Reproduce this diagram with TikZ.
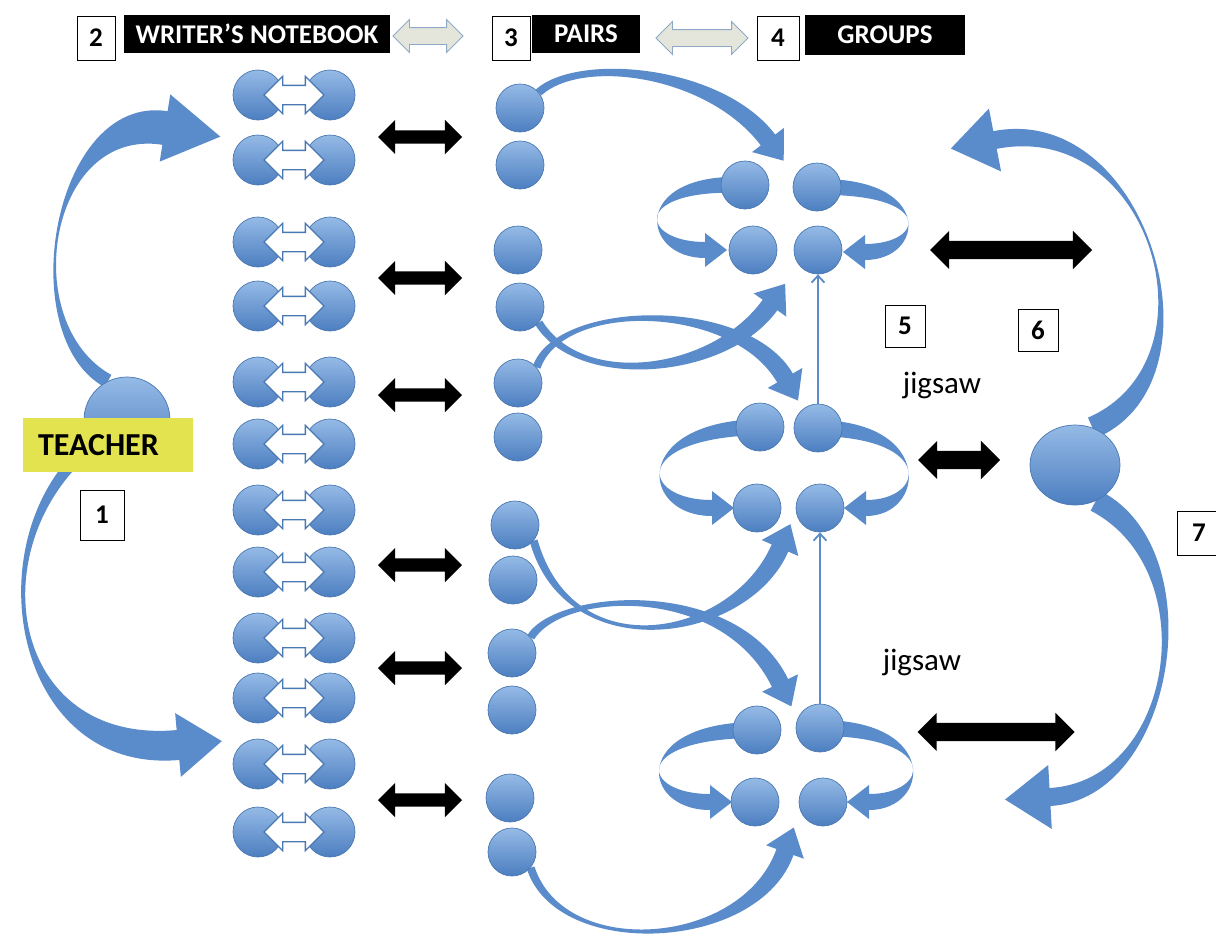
\documentclass[tikz,border=0pt]{standalone}
\usepackage{fontspec}
\setmainfont{Carlito}
\usetikzlibrary{arrows.meta,calc,backgrounds,shapes.arrows,shapes.geometric}
\definecolor{ballhi}{HTML}{95BAE6}
\definecolor{balllo}{HTML}{4C7EC0}
\definecolor{ballline}{HTML}{4A78B2}
\definecolor{bandblue}{HTML}{5A8BCB}
\definecolor{palefill}{HTML}{E4E6DC}
\definecolor{paleline}{HTML}{8FA8C6}
\definecolor{teachyellow}{HTML}{E2E34F}
\tikzset{
  bubble/.style   ={circle,draw=ballline,line width=0.7pt,top color=ballhi,
                    bottom color=balllo,minimum size=48pt,inner sep=0pt},
  wbubble/.style  ={bubble,minimum size=50pt},
  pairarr/.style  ={double arrow,draw=ballline,fill=white,line width=1.3pt,
                    minimum height=60pt,inner xsep=0pt,inner ysep=9pt,
                    double arrow head extend=9pt},
  blackarr/.style ={double arrow,fill=black,minimum height=84pt,inner xsep=0pt,
                    inner ysep=6.5pt,double arrow head extend=10.5pt},
  blackwide/.style={blackarr,inner ysep=9pt,double arrow head extend=10pt},
  palearr/.style  ={double arrow,draw=paleline,fill=palefill,line width=0.9pt,
                    inner xsep=0pt,inner ysep=8pt,double arrow head extend=8pt},
  numbox/.style   ={draw=black,line width=0.8pt,fill=white,minimum width=38pt,
                    minimum height=44pt,inner sep=0pt,
                    font=\bfseries\fontsize{27}{27}\selectfont},
  headbar/.style  ={fill=black,text=white,minimum height=38pt,inner sep=0pt,
                    font=\bfseries\fontsize{27}{27}\selectfont},
  jig/.style      ={font=\fontsize{31}{31}\selectfont,inner sep=0pt},
  loopfill/.style ={fill=bandblue},
  jigline/.style  ={draw=bandblue,line width=1.8pt,
                    -{Straight Barb[length=7pt,width=13pt]}},
}
% curved blue arrow with a taper:
% tail, control 1, control 2, neck, tail half width, neck half width,
% head half width, head length
\newcommand{\bluearrow}[8]{%
  \fill[loopfill]
    ($#1!#5!90:#2$) .. controls ($#2!#5!-90:#1$) and ($#3!#6!90:#4$)
    .. ($#4!#6!-90:#3$) -- ($#4!#7!-90:#3$) -- ($#4!#8!180:#3$)
    -- ($#4!#7!90:#3$) -- ($#4!#6!90:#3$)
    .. controls ($#3!#6!-90:#4$) and ($#2!#5!90:#1$) .. ($#1!#5!-90:#2$)
    -- cycle;}

\begin{document}
\begin{tikzpicture}[x=1pt,y=-1pt]
\useasboundingbox (0,0) rectangle (1216,945);

%% ---------------- header ----------------
\node[numbox] (n2) at (96,38) {2};
\node[headbar,minimum width=266pt] (hwn) at (257,34) {WRITER’S NOTEBOOK};
\node[palearr,minimum height=70pt] (pa1) at (428,36) {};
\node[numbox] (n3) at (511,38) {3};
\node[headbar,minimum width=108pt] (hpairs) at (586,34) {PAIRS};
\node[palearr,minimum height=92pt] (pa2) at (702,38) {};
\node[numbox,minimum width=42pt] (n4) at (778,38) {4};
\node[headbar,minimum width=160pt,minimum height=40pt] (hgroups) at (885,35) {GROUPS};

%% ---------------- teacher ----------------
\node[bubble,minimum size=86pt] (tc) at (127,420) {};
\node[fill=teachyellow,text width=140pt,inner xsep=15pt,inner ysep=0pt,
      minimum height=54pt,font=\bfseries\fontsize{32}{32}\selectfont]
      (tlab) at (108,445) {TEACHER};
\node[numbox,minimum width=44pt,minimum height=50pt] (n1) at (102,515) {1};

%% ---------------- writer's notebook ----------------
\foreach \y [count=\i] in {95,160,242,306,382,444,510,572,638,698,764,832}{
  \node[wbubble] (wl\i) at (258,\y) {};
  \node[wbubble] (wr\i) at (330,\y) {};
  \node[pairarr] (wa\i) at (294,\y) {};
}
\foreach \y [count=\i] in {137,278,395,565,668,800}
  \node[blackarr] (lk\i) at (420,\y) {};

%% ---------------- pairs ----------------
\foreach \x/\y [count=\i] in {520/108,520/165,518/250,520/307,518/383,518/437,
                              515/525,513/580,512/653,512/710,510/798,512/852}
  \node[bubble] (pr\i) at (\x,\y) {};

%% ---------------- groups ----------------
\node[bubble] (g1tl) at (745,185) {};
\node[bubble] (g1tr) at (817,187) {};
\node[bubble] (g1bl) at (753,250) {};
\node[bubble] (g1br) at (818,250) {};
\node[bubble] (g2tl) at (760,427) {};
\node[bubble] (g2tr) at (818,428) {};
\node[bubble] (g2bl) at (757,508) {};
\node[bubble] (g2br) at (820,508) {};
\node[bubble] (g3tl) at (757,730) {};
\node[bubble] (g3tr) at (820,728) {};
\node[bubble] (g3bl) at (755,802) {};
\node[bubble] (g3br) at (823,802) {};

\node[blackwide,minimum height=162pt] (rk1) at (1011,250) {};
\node[blackwide,minimum height=82pt] (rk2) at (959,460) {};
\node[blackwide,minimum height=157pt] (rk3) at (996,732) {};

\node[numbox,minimum width=40pt,minimum height=42pt] (n5) at (905,326) {5};
\node[numbox,minimum width=40pt,minimum height=42pt] (n6) at (1038,330) {6};
\node[numbox,minimum width=44pt,minimum height=44pt] (n7) at (1199,533) {7};
\node[jig] (js1) at (942,385) {jigsaw};
\node[jig] (js2) at (922,662) {jigsaw};

\node[bubble,ellipse,minimum width=90pt,minimum height=80pt] (rc) at (1075,465) {};

\draw[jigline] (g2tr.north) -- (g1br.south);
\draw[jigline] (g3tr.north) -- (g2br.south);

%% ---------------- curved arrows ----------------
\begin{scope}[on background layer]
\fill[white] (0,0) rectangle (1216,945);
% teacher to notebooks
\bluearrow{(tc.116)}{(15,330)}{(50,110)}{(165,128)}{7pt}{17pt}{34pt}{56pt}
\bluearrow{(tc.215)}{(-25,540)}{(10,760)}{(178,745)}{6pt}{15pt}{32pt}{44pt}
% right circle back to groups
\bluearrow{(rc.65)}{(1225,370)}{(1150,110)}{(995,140)}{11pt}{9pt}{32pt}{45pt}
\bluearrow{(rc.-60)}{(1210,560)}{(1175,790)}{(1050,797)}{11pt}{9pt}{32pt}{45pt}
% pairs to groups
\bluearrow{(pr1.40)}{(580,55)}{(715,70)}{(768,140)}{4pt}{9pt}{20pt}{26pt}
\bluearrow{(pr4.-40)}{(580,390)}{(720,375)}{(770,305)}{4pt}{9pt}{20pt}{26pt}
\bluearrow{(pr5.40)}{(560,300)}{(740,300)}{(785,378)}{4pt}{9pt}{20pt}{26pt}
\bluearrow{(pr7.-40)}{(570,670)}{(740,640)}{(780,548)}{4pt}{9pt}{20pt}{26pt}
\bluearrow{(pr9.40)}{(560,590)}{(730,580)}{(780,683)}{4pt}{9pt}{20pt}{26pt}
\bluearrow{(pr12.-40)}{(560,960)}{(750,950)}{(785,852)}{4pt}{9pt}{20pt}{26pt}
% loops inside the groups
\bluearrow{(g1tl.center)}{(630,180)}{(640,250)}{(705,250)}{8pt}{8pt}{17pt}{22pt}
\bluearrow{(g1tr.center)}{(935,185)}{(925,252)}{(865,252)}{8pt}{8pt}{17pt}{22pt}
\bluearrow{(g2tl.center)}{(630,430)}{(640,508)}{(712,508)}{8pt}{8pt}{17pt}{22pt}
\bluearrow{(g2tr.center)}{(935,430)}{(925,508)}{(866,508)}{8pt}{8pt}{17pt}{22pt}
\bluearrow{(g3tl.center)}{(630,730)}{(640,802)}{(710,802)}{8pt}{8pt}{17pt}{22pt}
\bluearrow{(g3tr.center)}{(940,728)}{(930,802)}{(869,802)}{8pt}{8pt}{17pt}{22pt}
\end{scope}

\end{tikzpicture}
\end{document}
